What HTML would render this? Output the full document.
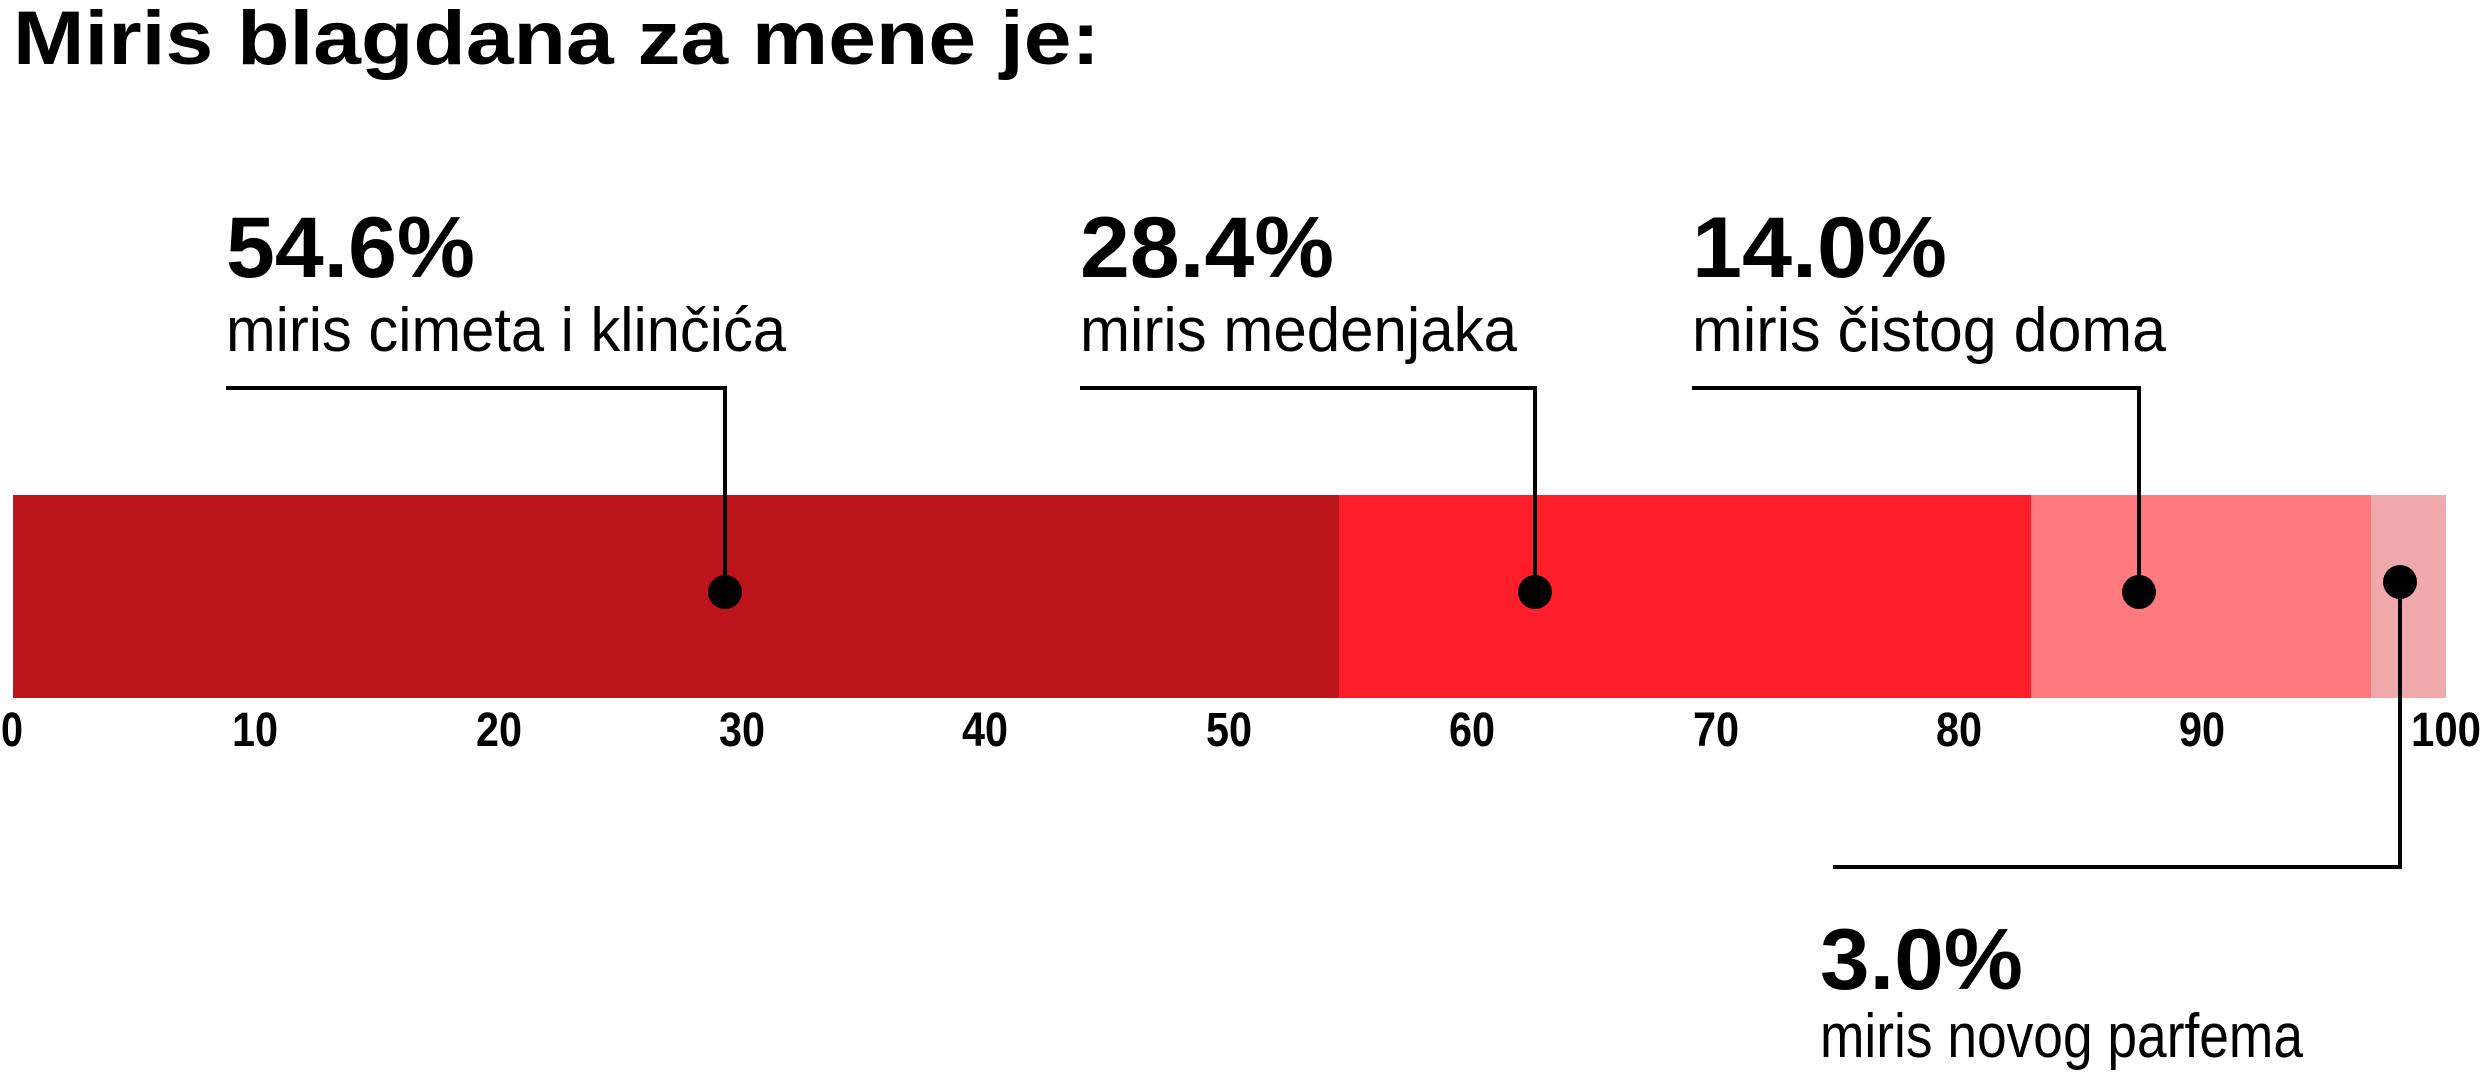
<!DOCTYPE html>
<html><head><meta charset="utf-8"><style>
html,body{margin:0;padding:0;background:#fff;width:2482px;height:1080px;overflow:hidden}
svg{display:block}
text{font-family:"Liberation Sans",sans-serif;fill:#000}
.b{font-weight:bold}
</style></head><body>
<svg width="2482" height="1080" viewBox="0 0 2482 1080" xmlns="http://www.w3.org/2000/svg">
<text class="b" x="13" y="64" font-size="76" textLength="1087" lengthAdjust="spacingAndGlyphs">Miris blagdana za mene je:</text>

<rect x="13" y="495" width="1327" height="203" fill="#bd151c"/>
<rect x="1339" y="495" width="693" height="203" fill="#ff1f2a"/>
<rect x="2031" y="495" width="341" height="203" fill="#ff7a7f"/>
<rect x="2371" y="495" width="75" height="203" fill="#f0a9ab"/>

<g class="b" font-size="48" text-anchor="middle">
<text x="12" y="746" textLength="22" lengthAdjust="spacingAndGlyphs">0</text>
<text x="255" y="746" textLength="46" lengthAdjust="spacingAndGlyphs">10</text>
<text x="499" y="746" textLength="46" lengthAdjust="spacingAndGlyphs">20</text>
<text x="742" y="746" textLength="46" lengthAdjust="spacingAndGlyphs">30</text>
<text x="985" y="746" textLength="46" lengthAdjust="spacingAndGlyphs">40</text>
<text x="1229" y="746" textLength="46" lengthAdjust="spacingAndGlyphs">50</text>
<text x="1472" y="746" textLength="46" lengthAdjust="spacingAndGlyphs">60</text>
<text x="1716" y="746" textLength="46" lengthAdjust="spacingAndGlyphs">70</text>
<text x="1959" y="746" textLength="46" lengthAdjust="spacingAndGlyphs">80</text>
<text x="2202" y="746" textLength="46" lengthAdjust="spacingAndGlyphs">90</text>
<text x="2446" y="746" textLength="70" lengthAdjust="spacingAndGlyphs">100</text>
</g>

<g stroke="#000" stroke-width="4" fill="none">
<polyline points="226,388 725,388 725,592"/>
<polyline points="1080,388 1535,388 1535,592"/>
<polyline points="1692,388 2139,388 2139,592"/>
<polyline points="2400,582 2400,867 1833,867"/>
</g>
<g fill="#000">
<circle cx="725" cy="592" r="17"/>
<circle cx="1535" cy="592" r="17"/>
<circle cx="2139" cy="592" r="17"/>
<circle cx="2400" cy="582" r="17"/>
</g>

<text class="b" x="226" y="277" font-size="86" textLength="249" lengthAdjust="spacingAndGlyphs">54.6%</text>
<text x="226" y="351" font-size="62" textLength="560" lengthAdjust="spacingAndGlyphs">miris cimeta i klinčića</text>
<text class="b" x="1080" y="277" font-size="86" textLength="254" lengthAdjust="spacingAndGlyphs">28.4%</text>
<text x="1080" y="351" font-size="62" textLength="437" lengthAdjust="spacingAndGlyphs">miris medenjaka</text>
<text class="b" x="1692" y="277" font-size="86" textLength="255" lengthAdjust="spacingAndGlyphs">14.0%</text>
<text x="1692" y="351" font-size="62" textLength="474" lengthAdjust="spacingAndGlyphs">miris čistog doma</text>
<text class="b" x="1820" y="989" font-size="86" textLength="203" lengthAdjust="spacingAndGlyphs">3.0%</text>
<text x="1820" y="1057" font-size="62" textLength="483" lengthAdjust="spacingAndGlyphs">miris novog parfema</text>
</svg>
</body></html>
